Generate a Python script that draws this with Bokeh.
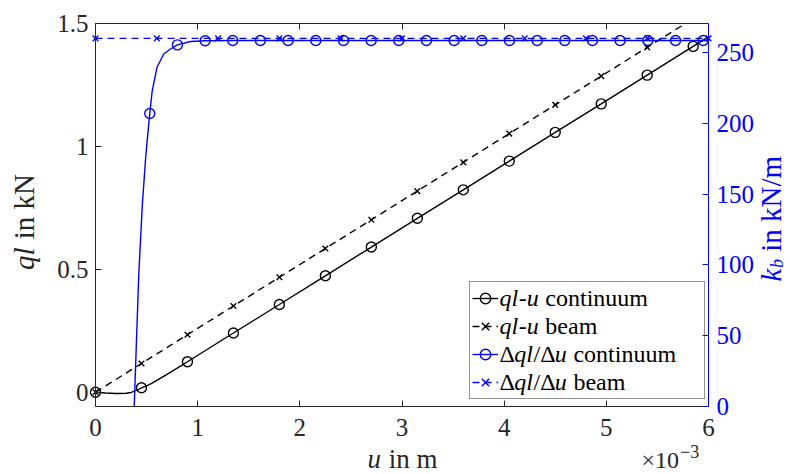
from math import pi
from bokeh.plotting import figure
from bokeh.models import Range1d, LinearAxis, FixedTicker, Label, Legend, LegendItem
from bokeh.embed import file_html
from bokeh.resources import INLINE

# ---------------- data (u in 10^-3 m) ----------------
u_ql_cont = [0, 0.1, 0.2, 0.3, 0.35, 0.38, 0.42, 0.45, 0.5, 0.55, 0.6, 0.7, 0.8, 0.9,
             1.35, 1.8, 2.25, 2.7, 3.15, 3.6, 4.05, 4.5, 4.95, 5.4, 5.85, 6.0]
ql_cont = [0, -0.003, -0.005, -0.004, -0.001, 0.004, 0.011, 0.018, 0.026, 0.036, 0.048, 0.073, 0.098, 0.124,
           0.241, 0.357, 0.474, 0.591, 0.708, 0.824, 0.941, 1.058, 1.174, 1.291, 1.408, 1.447]
u_ql_cont_mk = [0, 0.45, 0.9, 1.35, 1.8, 2.25, 2.7, 3.15, 3.6, 4.05, 4.5, 4.95, 5.4, 5.85]
ql_cont_mk = [0, 0.018, 0.124, 0.241, 0.357, 0.474, 0.591, 0.708, 0.824, 0.941, 1.058, 1.174, 1.291, 1.408]

u_ql_beam = [0, 0.45, 0.9, 1.35, 1.8, 2.25, 2.7, 3.15, 3.6, 4.05, 4.5, 4.95, 5.4, 5.77]
ql_beam = [0, 0.117, 0.234, 0.351, 0.468, 0.585, 0.702, 0.819, 0.936, 1.053, 1.17, 1.287, 1.404, 1.5]
u_ql_beam_mk = [0, 0.45, 0.9, 1.35, 1.8, 2.25, 2.7, 3.15, 3.6, 4.05, 4.5, 4.95, 5.4]
ql_beam_mk = [0, 0.117, 0.234, 0.351, 0.468, 0.585, 0.702, 0.819, 0.936, 1.053, 1.17, 1.287, 1.404]

u_kb_cont = [0.379, 0.401, 0.424, 0.457, 0.489, 0.506, 0.531, 0.555, 0.603, 0.668, 0.734, 0.802, 0.93,
             1.073, 1.343, 1.614, 1.885, 2.156, 2.427, 2.698, 2.968, 3.239, 3.51, 3.781, 4.052,
             4.323, 4.593, 4.864, 5.135, 5.406, 5.677, 5.947, 6.0]
kb_cont = [0, 46.6, 93.8, 140.8, 173.9, 188.0, 206.9, 223.0, 239.8, 249.0, 252.5, 255.4, 257.8,
           258.3, 258.5, 258.5, 258.5, 258.5, 258.5, 258.5, 258.5, 258.5, 258.5, 258.5, 258.5,
           258.5, 258.5, 258.5, 258.5, 258.5, 258.5, 258.5, 258.5]
u_kb_cont_mk = [0.531, 0.802, 1.073, 1.343, 1.614, 1.885, 2.156, 2.427, 2.698, 2.968, 3.239,
                3.51, 3.781, 4.052, 4.323, 4.593, 4.864, 5.135, 5.406, 5.677, 5.947]
kb_cont_mk = [206.9, 255.4, 258.3, 258.5, 258.5, 258.5, 258.5, 258.5, 258.5, 258.5, 258.5,
              258.5, 258.5, 258.5, 258.5, 258.5, 258.5, 258.5, 258.5, 258.5, 258.5]

u_kb_beam = [0, 0.6, 1.2, 1.8, 2.4, 3.0, 3.6, 4.2, 4.8, 5.4, 6.0]
kb_beam = [260, 260, 260, 260, 260, 260, 260, 260, 260, 260, 260]

x_ticks = [0, 1, 2, 3, 4, 5, 6]
ql_ticks = [0, 0.5, 1, 1.5]
ql_tick_labels = ["0", "0.5", "1", "1.5"]
kb_ticks = [0, 50, 100, 150, 200, 250]

legend_labels = ["ql-u continuum", "ql-u beam", "Δql/Δu continuum", "Δql/Δu beam"]

# ---------------- layout ----------------
W, H = 790, 474
# axes box in canvas pixels
BL, BR, BT, BB = 95.0, 708.0, 23.3, 406.0
X0, X1 = 0.0, 6.0
Y0, Y1 = -0.0582, 1.5
K0, K1 = 0.0, 270.3

sx = (X1 - X0) / (BR - BL)
sy = (Y1 - Y0) / (BB - BT)
sk = (K1 - K0) / (BB - BT)
x_rng = Range1d(X0 - BL * sx, X1 + (W - BR) * sx)
y_rng = Range1d(Y0 - (H - BB) * sy, Y1 + BT * sy)
k_rng = Range1d(K0 - (H - BB) * sk, K1 + BT * sk)

BLACK = "#000000"
AXC = "#262626"
BLUE = "#0000ff"
FONT = "Liberation Serif"

p = figure(width=W, height=H, output_backend="svg", toolbar_location=None,
           x_range=x_rng, y_range=y_rng,
           min_border_left=0, min_border_right=0, min_border_top=0, min_border_bottom=0,
           background_fill_color="white", border_fill_color="white",
           x_axis_location=None, y_axis_location=None)
p.outline_line_color = None
p.xgrid.visible = False
p.ygrid.visible = False
p.extra_y_ranges = {"kb": k_rng}


def make_axis(color, standoff, show_labels=True, **kw):
    ax = LinearAxis(**kw)
    ax.axis_line_color = color
    ax.axis_line_width = 1
    ax.major_tick_line_color = color
    ax.major_tick_in = 6
    ax.major_tick_out = 0
    ax.minor_tick_line_color = None
    ax.major_label_text_font = FONT
    ax.major_label_text_font_size = "25px"
    ax.major_label_text_color = color if show_labels else None
    ax.major_label_standoff = standoff
    return ax


xa = make_axis(AXC, 12, ticker=FixedTicker(ticks=x_ticks), fixed_location=Y0, bounds=(X0, X1))
p.add_layout(xa, "below")

top = make_axis(AXC, 2, show_labels=False, ticker=FixedTicker(ticks=x_ticks),
                fixed_location=Y1, bounds=(X0, X1))
p.add_layout(top, "above")

ya = make_axis(AXC, 7, ticker=FixedTicker(ticks=ql_ticks), fixed_location=X0, bounds=(Y0, Y1))
ya.major_label_overrides = {t: s for t, s in zip(ql_ticks, ql_tick_labels)}
p.add_layout(ya, "left")

ra = make_axis(BLUE, 8, ticker=FixedTicker(ticks=kb_ticks), y_range_name="kb",
               fixed_location=X1, bounds=(K0, K1))
p.add_layout(ra, "right")

# ---------------- glyphs ----------------
DASH = "7 5"
LW = 1.4
l1 = p.line(u_ql_cont, ql_cont, line_color=BLACK, line_width=LW)
s1 = p.scatter(u_ql_cont_mk, ql_cont_mk, marker="circle", size=10, line_color=BLACK,
               fill_color=None, line_width=LW)
l2 = p.line(u_ql_beam, ql_beam, line_color=BLACK, line_width=LW, line_dash=DASH)
s2 = p.scatter(u_ql_beam_mk, ql_beam_mk, marker="x", size=8, line_color=BLACK, line_width=LW)
l3 = p.line(u_kb_cont, kb_cont, line_color=BLUE, line_width=LW, y_range_name="kb")
s3 = p.scatter(u_kb_cont_mk, kb_cont_mk, marker="circle", size=10, line_color=BLUE,
               fill_color=None, line_width=LW, y_range_name="kb")
l4 = p.line(u_kb_beam, kb_beam, line_color=BLUE, line_width=LW, line_dash=DASH, y_range_name="kb")
s4 = p.scatter(u_kb_beam, kb_beam, marker="x", size=8, line_color=BLUE, line_width=LW,
               y_range_name="kb")

legend = Legend(items=[LegendItem(label=legend_labels[0], renderers=[l1, s1]),
                       LegendItem(label=legend_labels[1], renderers=[l2, s2]),
                       LegendItem(label=legend_labels[2], renderers=[l3, s3]),
                       LegendItem(label=legend_labels[3], renderers=[l4, s4])],
                location=(469, H - 399), orientation="vertical", padding=2, spacing=0, margin=0,
                glyph_width=26, glyph_height=28, label_width=200, label_height=28,
                label_standoff=4, label_text_font_size="8px", label_text_color=None,
                border_line_color=AXC, border_line_width=1,
                background_fill_color="white", background_fill_alpha=0.0)
p.add_layout(legend)

# ---------------- text pieces (mixed italic / upright) ----------------
ADV_R = {"-": 0.333, "Δ": 0.612, "/": 0.278, " ": 0.25, "×": 0.564, "1": 0.5, "0": 0.5,
         "−": 0.564, "3": 0.5, "i": 0.278, "n": 0.5, "m": 0.778, "k": 0.5, "N": 0.722,
         "c": 0.444, "o": 0.5, "t": 0.278, "u": 0.5, "b": 0.5, "e": 0.444, "a": 0.444}
ADV_I = {"q": 0.5, "l": 0.278, "u": 0.5, "k": 0.444, "b": 0.5}
BASE_FIX = 0.25  # empirical baseline correction (fraction of font size)


def adv(text, italic, size):
    tab = ADV_I if italic else ADV_R
    return sum(tab.get(ch, 0.5) for ch in text) * size


def put(pieces, px, py, color, angle=0.0):
    """pieces: list of (text, italic, size, shift_perp, gap_before); px/py canvas pixels."""
    pos = 0.0
    for text, italic, size, shift, gap in pieces:
        pos += gap
        s = shift - BASE_FIX * size
        if angle == 0.0:
            x, y = px + pos, py + s
        else:  # rotated 90deg: advance upward, "down" is +x
            x, y = px + s, py - pos
        p.add_layout(Label(x=x, y=H - y, x_units="screen", y_units="screen", text=text,
                           text_font=FONT, text_font_size=f"{size}px",
                           text_font_style="italic" if italic else "normal",
                           text_color=color, angle=angle, text_align="left",
                           text_baseline="alphabetic", level="overlay"))
        pos += adv(text, italic, size)


LS = 24
row_base = [303.5, 331.5, 359.5, 387.5]
sp = 0.25 * LS
put([("ql", True, LS, 0, 0), ("-", False, LS, 0, 0.6), ("u", True, LS, 0, 0),
     ("continuum", False, LS, 0, sp + 0.6)], 499, row_base[0], BLACK)
put([("ql", True, LS, 0, 0), ("-", False, LS, 0, 0.6), ("u", True, LS, 0, 0),
     ("beam", False, LS, 0, sp + 0.6)], 499, row_base[1], BLACK)
put([("Δ", False, LS, 0, 0), ("ql", True, LS, 0, 0), ("/Δ", False, LS, 0, 0.6),
     ("u", True, LS, 0, 0), ("continuum", False, LS, 0, sp + 0.6)], 499, row_base[2], BLACK)
put([("Δ", False, LS, 0, 0), ("ql", True, LS, 0, 0), ("/Δ", False, LS, 0, 0.6),
     ("u", True, LS, 0, 0), ("beam", False, LS, 0, sp + 0.6)], 499, row_base[3], BLACK)

AS = 29
# x-axis label
put([("u", True, 27, 0, 0), ("in m", False, 27, 0, 0.25 * 27 + 1)], 367, 465, AXC)
# left y-axis label (rotated)
put([("ql", True, AS, 0, 0), ("in kN", False, AS, 0, 0.25 * AS + 1)], 31, 269.5, AXC, angle=pi / 2)
# right y-axis label (rotated)
put([("k", True, AS, 0, 0), ("b", True, 18, 3, 0.5), ("in kN/m", False, AS, 0, 0.25 * AS)],
    778, 281, BLUE, angle=pi / 2)
# exponent
put([("×10", False, 24, 0, 0), ("−3", False, 18, -10, 1)], 641, 465, AXC)

open("out.html", "w").write(file_html(p, INLINE))
